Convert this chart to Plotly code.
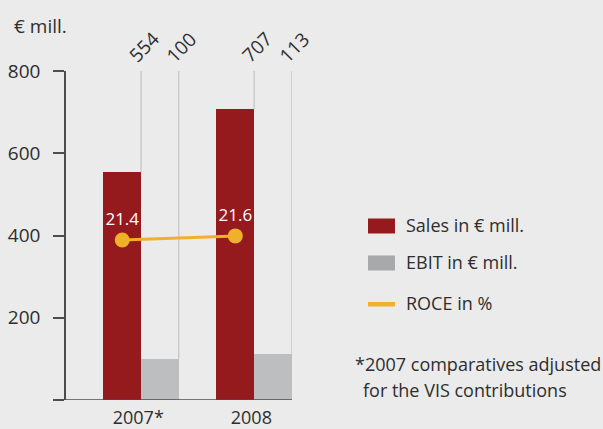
import plotly.graph_objects as go

years = ["2007*", "2008"]
sales = [554, 707]
ebit = [100, 113]
roce = [21.4, 21.6]

FONT = "Open Sans"
FS = 18
TXT = "#2e2e2e"
BG = "#eaebea"
RED = "#951a1e"
GRAY = "#bdbec0"
LEGGRAY = "#a8a9ab"
ORANGE = "#efb02c"
LINEGRAY = "#c6c7c8"
AXC = "#4d4d4d"

W, H = 603, 429
L, R, T, B = 66, 292, 71, 400  # plot area in pixels

def px(x):
    return (x - L) / (R - L)

def py(y):
    return (B - y) / (B - T)

xc = list(range(len(years)))
w = 1 / 3
top = 800

fig = go.Figure()

# vertical guide lines from bar tops to top of chart
lx, ly = [], []
for i, (s, e) in enumerate(zip(sales, ebit)):
    lx += [xc[i], xc[i], None, xc[i] + w, xc[i] + w, None]
    ly += [s, top, None, e, top, None]
fig.add_trace(go.Scatter(x=lx, y=ly, mode="lines", line=dict(color=LINEGRAY, width=1.3),
                         hoverinfo="skip", showlegend=False, cliponaxis=False))

fig.add_trace(go.Bar(x=xc, y=sales, width=w, offset=-w, marker=dict(color=RED, line=dict(width=0)),
                     name="Sales in € mill.", showlegend=False))
fig.add_trace(go.Bar(x=xc, y=ebit, width=w, offset=0, marker=dict(color=GRAY, line=dict(width=0)),
                     name="EBIT in € mill.", showlegend=False))

fig.add_trace(go.Scatter(x=[c - w / 2 for c in xc], y=roce, yaxis="y2", mode="lines+markers+text",
                         line=dict(color=ORANGE, width=3), marker=dict(color=ORANGE, size=15),
                         text=[f"{v:.1f}" for v in roce], textposition="top center",
                         textfont=dict(color="white", size=17, family=FONT),
                         name="ROCE in %", showlegend=False))

# rotated value labels
for i, (s, e) in enumerate(zip(sales, ebit)):
    for xv, v in ((xc[i], s), (xc[i] + w, e)):
        fig.add_annotation(x=xv, y=top, xref="x", yref="y", text=str(v), showarrow=False,
                           textangle=-45, xanchor="center", yanchor="bottom", xshift=3, yshift=0,
                           font=dict(size=FS + 1, family=FONT, color=TXT))

fig.add_annotation(x=px(12), y=py(26), xref="paper", yref="paper", text="€ mill.", showarrow=False,
                   xanchor="left", yanchor="middle", font=dict(size=FS + 1, family=FONT, color=TXT))

# legend
leg = [("Sales in € mill.", RED, 226, "box"), ("EBIT in € mill.", LEGGRAY, 263, "box"),
       ("ROCE in %", ORANGE, 304, "line")]
for label, col, yc, kind in leg:
    if kind == "box":
        fig.add_shape(type="rect", xref="paper", yref="paper", x0=px(368), x1=px(395),
                      y0=py(yc + 7.5), y1=py(yc - 7.5), fillcolor=col, line=dict(width=0))
    else:
        fig.add_shape(type="rect", xref="paper", yref="paper", x0=px(368), x1=px(395),
                      y0=py(yc + 2.5), y1=py(yc - 2), fillcolor=col, line=dict(width=0))
    fig.add_annotation(x=px(404), y=py(yc - 1), xref="paper", yref="paper", text=label, showarrow=False,
                       xanchor="left", yanchor="middle", font=dict(size=FS, family=FONT, color=TXT))

fig.add_annotation(x=px(353), y=py(364), xref="paper", yref="paper",
                   text="*2007 comparatives adjusted", showarrow=False,
                   xanchor="left", yanchor="middle", font=dict(size=FS, family=FONT, color=TXT))
fig.add_annotation(x=px(361), y=py(390), xref="paper", yref="paper",
                   text="for the VIS contributions", showarrow=False,
                   xanchor="left", yanchor="middle", font=dict(size=FS, family=FONT, color=TXT))

fig.update_layout(
    width=W, height=H,
    margin=dict(l=L, r=W - R, t=T, b=H - B, pad=0, autoexpand=False),
    paper_bgcolor=BG, plot_bgcolor=BG,
    barmode="overlay", bargap=0,
    font=dict(family=FONT, size=FS, color=TXT),
    xaxis=dict(range=[-0.664, 1.3345], tickvals=[c - 0.025 for c in xc], ticktext=years,
               showgrid=False, zeroline=False, showline=False, ticks="",
               ticklabelstandoff=5, automargin=False,
               tickfont=dict(size=FS, family=FONT, color=TXT), fixedrange=True),
    yaxis=dict(range=[0, 800], tickvals=[0, 200, 400, 600, 800], ticktext=["", "200", "400", "600", "800"],
               showgrid=False, zeroline=False, showline=True, linecolor=AXC, linewidth=1.5,
               ticks="outside", ticklen=11, tickwidth=1.5, tickcolor=AXC,
               ticklabelstandoff=9, automargin=False,
               tickfont=dict(size=FS + 1, family=FONT, color=TXT), fixedrange=True),
    yaxis2=dict(range=[13.62, 29.62], overlaying="y", visible=False),
    showlegend=False,
)
# baseline
fig.add_shape(type="line", xref="paper", yref="y", x0=0, x1=1, y0=0, y1=0,
              line=dict(color=AXC, width=1.5))

fig.write_html("out.html", config={"displayModeBar": False},
               post_script="document.body.style.margin='0';")
